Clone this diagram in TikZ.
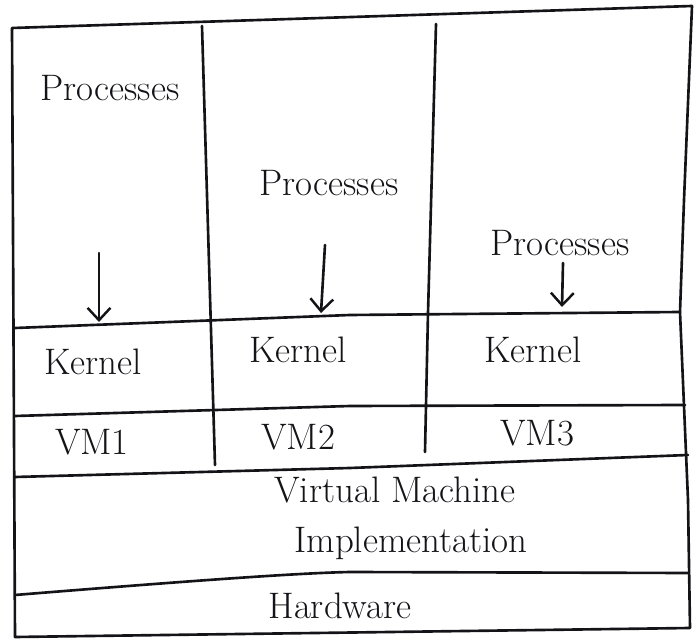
\documentclass[tikz,border=0pt]{standalone}
\usepackage{fontspec}
\usetikzlibrary{arrows.meta}
\definecolor{ink}{HTML}{141418}
\tikzset{
  pen/.style={draw=ink, line width=1.5pt, line cap=round, line join=round},
  label/.style={text=ink, font=\fontsize{21}{24}\selectfont, inner sep=0pt},
  flow/.style={pen, -{Straight Barb[length=7pt,width=13pt,line width=1.4pt]}}
}
\begin{document}
\begin{tikzpicture}[x=0.02cm, y=-0.02cm]
\useasboundingbox (0,0) rectangle (700,641);

% outer frame
\draw[pen] (12,28) -- (692,6) -- (684,200) -- (680,312) -- (688,500) -- (690,628)
  -- (15,637) -- cycle;

% column separators
\draw[pen] (202,26) -- (215,465);
\draw[pen] (436,24) -- (428,313) -- (425,452);

% layer separators
\draw[pen] (15,328) -- (350,315) -- (680,312);
\draw[pen] (15,416) -- (350,406) -- (685,405);
\draw[pen] (15,477) -- (350,468) -- (688,455);
\draw[pen] (15,595) .. controls (200,580) and (300,573) .. (350,572) -- (688,573);

% labels
\node[label] (p1) at (110,88)  {Processes};
\node[label] (p2) at (329,183) {Processes};
\node[label] (p3) at (560,243) {Processes};

\node[label] (k1) at (93,362)  {Kernel};
\node[label] (k2) at (298,350) {Kernel};
\node[label] (k3) at (533,350) {Kernel};

\node[label] (v1) at (92,442)  {VM1};
\node[label] (v2) at (298,437) {VM2};
\node[label] (v3) at (537,433) {VM3};

\node[label] (vmi) at (395,490) {Virtual Machine};
\node[label] (imp) at (411,543) {Implementation};
\node[label] (hw)  at (340,606) {Hardware};

% process-to-kernel arrows
\coordinate (a1s) at (99,253);  \coordinate (a1e) at (99,322);
\coordinate (a2s) at (325,245); \coordinate (a2e) at (321,313);
\coordinate (a3s) at (563,263); \coordinate (a3e) at (562,307);
\draw[flow] (a1s) -- (a1e);
\draw[flow] (a2s) -- (a2e);
\draw[flow] (a3s) -- (a3e);
\end{tikzpicture}
\end{document}
